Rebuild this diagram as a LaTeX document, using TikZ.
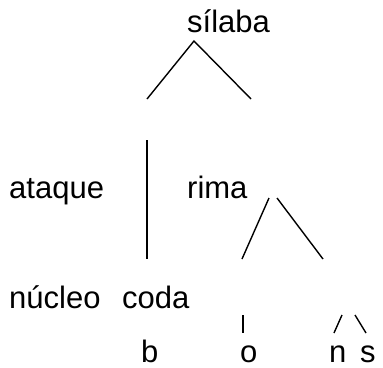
\documentclass[tikz,border=0pt]{standalone}
\usepackage{fontspec}
\setmainfont{Liberation Sans}
\begin{document}
\begin{tikzpicture}[x=1pt,y=-1pt,
  lbl/.style={anchor=base west,inner sep=0pt,font=\fontsize{31}{36}\selectfont},
  branch/.style={line width=1.4pt}]
\useasboundingbox (0,0) rectangle (383,367);
% labels
\node[lbl] (silaba) at (187,32) {sílaba};
\node[lbl] (ataque) at (9,198) {ataque};
\node[lbl] (rima)   at (187,198) {rima};
\node[lbl] (nucleo) at (9,308) {núcleo};
\node[lbl] (coda)   at (122,308) {coda};
\node[lbl] (b) at (141,362) {b};
\node[lbl] (o) at (240,362) {o};
\node[lbl] (n) at (329,362) {n};
\node[lbl] (s) at (360,362) {s};
% branch end points
\coordinate (sTop) at (194,41);
\coordinate (sL) at (147,99);
\coordinate (sR) at (251,99);
\coordinate (vT) at (147,140);
\coordinate (vB) at (147,259);
\coordinate (rL0) at (269,198);
\coordinate (rL1) at (242,259);
\coordinate (rR0) at (277,198);
\coordinate (rR1) at (323,259);
\coordinate (oT) at (243,315);
\coordinate (oB) at (243,333);
\coordinate (nT) at (342,315);
\coordinate (nB) at (334,333);
\coordinate (sT) at (355,315);
\coordinate (sB) at (366,333);
% branches
\draw[branch] (sL) -- (sTop) -- (sR);
\draw[branch] (vT) -- (vB);
\draw[branch] (rL0) -- (rL1);
\draw[branch] (rR0) -- (rR1);
\draw[branch] (oT) -- (oB);
\draw[branch] (nT) -- (nB);
\draw[branch] (sT) -- (sB);
\end{tikzpicture}
\end{document}
